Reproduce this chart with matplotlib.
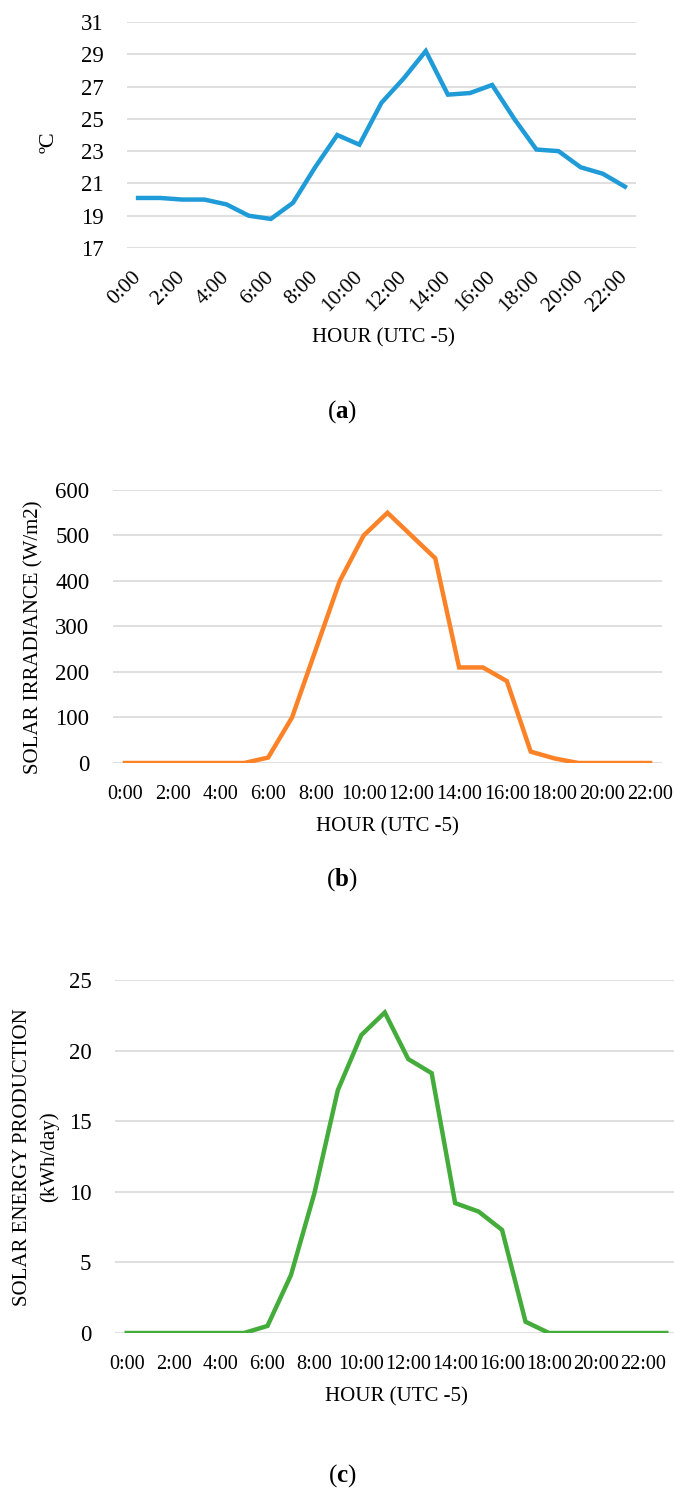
import matplotlib
matplotlib.use("Agg")
import matplotlib.pyplot as plt

plt.rcParams["font.family"] = ["Liberation Serif", "DejaVu Serif"]
plt.rcParams["mathtext.fontset"] = "custom"
plt.rcParams["mathtext.rm"] = "Liberation Serif"
plt.rcParams["mathtext.bf"] = "Liberation Serif:bold"

# hourly data (UTC -5)
hours_a = [f"{h}:00" for h in range(23)]
temperature = [20.1, 20.1, 20.0, 20.0, 19.7, 19.0, 18.8, 19.8, 22.0, 24.0, 23.4, 26.0,
               27.5, 29.2, 26.5, 26.6, 27.1, 25.0, 23.1, 23.0, 22.0, 21.6, 20.8]

hours_b = [f"{h}:00" for h in range(23)]
irradiance = [0, 0, 0, 0, 0, 0, 12, 100, 250, 400, 500, 550,
              500, 450, 210, 210, 180, 25, 10, 0, 0, 0, 0]

hours_c = [f"{h}:00" for h in range(24)]
energy = [0, 0, 0, 0, 0, 0, 0.5, 4.1, 9.9, 17.2, 21.1, 22.7,
          19.4, 18.4, 9.2, 8.6, 7.3, 0.8, 0, 0, 0, 0, 0, 0]

W, H = 674, 1492
GRID = "#D9D9D9"


def rect(x0, y0, x1, y1):
    return [x0 / W, 1 - y1 / H, (x1 - x0) / W, (y1 - y0) / H]


def style(ax, labels, yticks, color, values, xsize, rot=0, xpad=16):
    x = list(range(len(labels)))
    ax.plot(x, values, color=color, lw=3.2, solid_joinstyle="miter", zorder=3)
    ax.set_xlim(-0.5, len(labels) - 0.5)
    ax.set_ylim(yticks[0], yticks[-1])
    ax.set_yticks(yticks)
    ax.yaxis.grid(True, color=GRID, lw=1.2)
    ax.set_axisbelow(True)
    for s in ax.spines.values():
        s.set_visible(False)
    ax.tick_params(axis="y", length=0, pad=17, labelsize=16.5)
    ax.set_xticks(x[::2])
    if rot:
        ax.set_xticklabels(labels[::2], rotation=rot, ha="right", va="center",
                           rotation_mode="anchor", fontsize=xsize)
    else:
        ax.set_xticklabels(labels[::2], fontsize=xsize)
    ax.tick_params(axis="x", length=0, pad=xpad)


fig = plt.figure(figsize=(W / 100, H / 100), dpi=100)

ax1 = fig.add_axes(rect(127, 22, 636, 248))
style(ax1, hours_a, list(range(17, 32, 2)), "#1F9BD7", temperature, 15.5, rot=45, xpad=19)
fig.text(49 / W, 1 - 142 / H, "ºC", rotation=90, ha="center", va="center", fontsize=16)
fig.text(383 / W, 1 - 338 / H, "HOUR (UTC -5)", ha="center", va="center", fontsize=15)
fig.text(342 / W, 1 - 412 / H, r"($\mathbf{a}$)", ha="center", va="center", fontsize=18)

ax2 = fig.add_axes(rect(113, 490, 662, 763))
style(ax2, hours_b, list(range(0, 601, 100)), "#FB8227", irradiance, 14.6, xpad=16)
fig.text(34 / W, 1 - 637 / H, "SOLAR IRRADIANCE (W/m2)", rotation=90,
         ha="center", va="center", fontsize=15)
fig.text(387 / W, 1 - 827 / H, "HOUR (UTC -5)", ha="center", va="center", fontsize=15)
fig.text(342 / W, 1 - 880 / H, r"($\mathbf{b}$)", ha="center", va="center", fontsize=18)

ax3 = fig.add_axes(rect(115, 980, 678, 1333))
style(ax3, hours_c, list(range(0, 26, 5)), "#44AC3B", energy, 14.6, xpad=16)
fig.text(36 / W, 1 - 1157 / H, "SOLAR ENERGY PRODUCTION\n(kWh/day)", rotation=90,
         ha="center", va="center", multialignment="center", linespacing=1.45, fontsize=15)
fig.text(396 / W, 1 - 1397 / H, "HOUR (UTC -5)", ha="center", va="center", fontsize=15)
fig.text(342 / W, 1 - 1476 / H, r"($\mathbf{c}$)", ha="center", va="center", fontsize=18)

fig.savefig("out.png", dpi=100)
